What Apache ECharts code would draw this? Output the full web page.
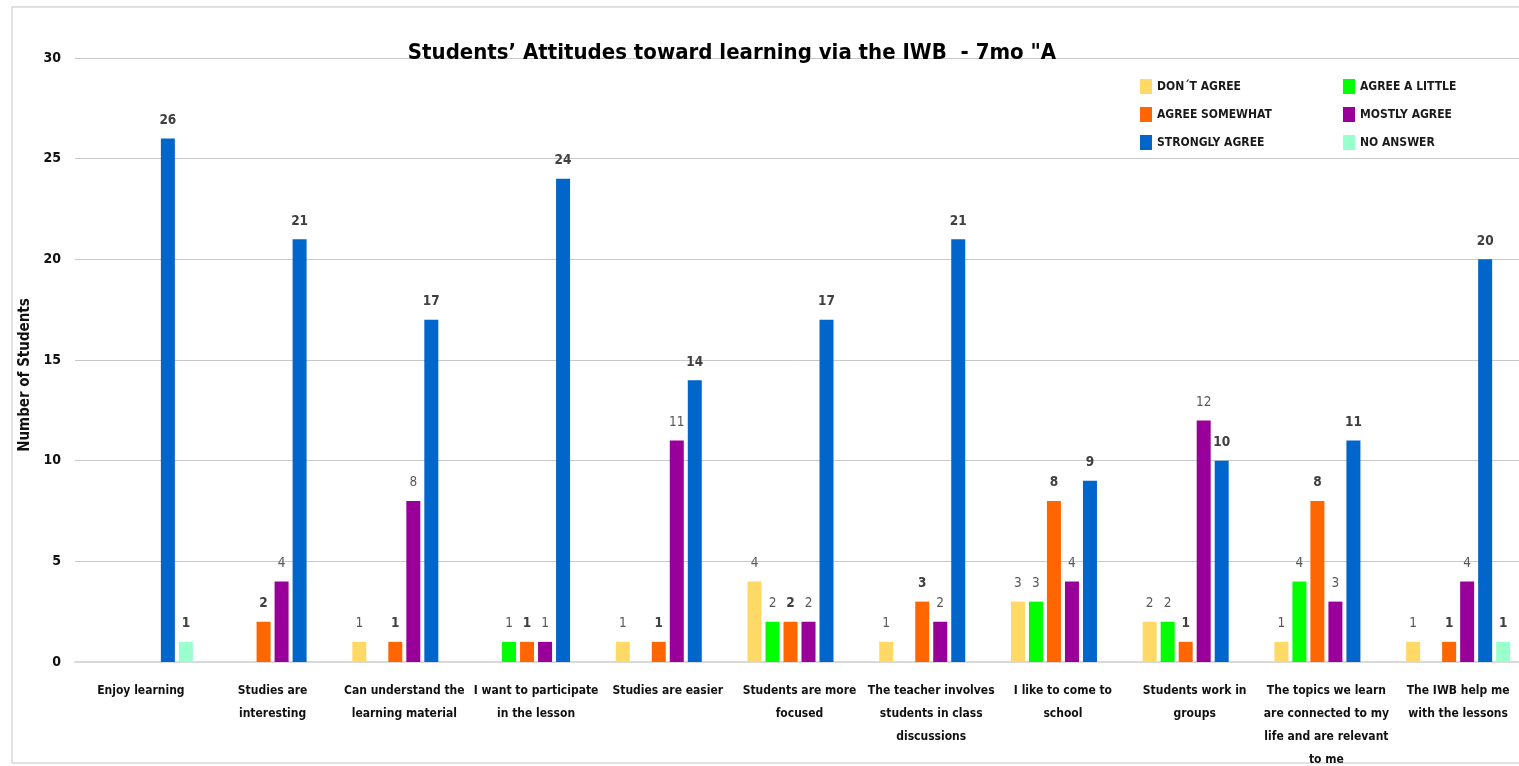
<!DOCTYPE html>
<html>
<head>
<meta charset="utf-8">
<title>Students’ Attitudes toward learning via the IWB</title>
<script src="https://cdn.jsdelivr.net/npm/echarts@6/dist/echarts.min.js"></script>
<style>
  html, body { margin: 0; padding: 0; background: #ffffff; }
  #chart { width: 1519px; height: 766px; }
</style>
</head>
<body>
<div id="chart"></div>
<script>
// Survey statements (x-axis categories)
const categories = [
  'Enjoy learning',
  'Studies are\ninteresting',
  'Can understand the\nlearning material',
  'I want to participate\nin the lesson',
  'Studies are easier',
  'Students are more\nfocused',
  'The teacher involves\nstudents in class\ndiscussions',
  'I like to come to\nschool',
  'Students work in\ngroups',
  'The topics we learn\nare connected to my\nlife and are relevant\nto me',
  'The IWB help me\nwith the lessons'
];

// Number of students per answer, one value per statement
const dontAgree       = [0, 0, 1, 0, 1, 4, 1, 3, 2, 1, 1];
const agreeALittle    = [0, 0, 0, 1, 0, 2, 0, 3, 2, 4, 0];
const agreeSomewhat   = [0, 2, 1, 1, 1, 2, 3, 8, 1, 8, 1];
const mostlyAgree     = [0, 4, 8, 1, 11, 2, 2, 4, 12, 3, 4];
const stronglyAgree   = [26, 21, 17, 24, 14, 17, 21, 9, 10, 11, 20];
const noAnswer        = [1, 0, 0, 0, 0, 0, 0, 0, 0, 0, 1];

const yTicks = [0, 5, 10, 15, 20, 25, 30];

const FONT = '"DejaVu Sans Condensed", "Liberation Sans Narrow", sans-serif';

function makeSeries(name, data, color, bold) {
  return {
    name: name,
    type: 'bar',
    data: data,
    barWidth: 14,
    barGap: '28.6%',
    itemStyle: { color: color },
    label: {
      show: true,
      position: 'top',
      distance: 11,
      fontFamily: FONT,
      fontSize: 13.5,
      fontWeight: bold ? 'bold' : 'normal',
      color: bold ? '#404040' : '#595959',
      formatter: p => (p.value ? String(p.value) : '')
    }
  };
}

const chart = echarts.init(document.getElementById('chart'));

const legendText = { fontFamily: FONT, fontSize: 12, fontWeight: 'bold', color: '#1a1a1a' };

chart.setOption({
  animation: false,
  backgroundColor: '#ffffff',
  title: {
    text: 'Students’ Attitudes toward learning via the IWB  - 7mo "A',
    left: 732,
    top: 42,
    padding: 0,
    textAlign: 'center',
    textStyle: { fontFamily: FONT, fontSize: 22, fontWeight: 'bold', color: '#000000' }
  },
  graphic: [{
    type: 'rect',
    shape: { x: 12, y: 7, width: 1530, height: 756 },
    style: { fill: 'none', stroke: '#d9d9d9', lineWidth: 1.5 },
    silent: true,
    z: -10
  }],
  legend: [
    {
      orient: 'vertical',
      left: 1140, top: 79,
      padding: 0,
      itemWidth: 12, itemHeight: 15, itemGap: 13,
      selectedMode: false,
      icon: 'rect',
      textStyle: legendText,
      data: ['DON´T AGREE', 'AGREE SOMEWHAT', 'STRONGLY AGREE']
    },
    {
      orient: 'vertical',
      left: 1343, top: 79,
      padding: 0,
      itemWidth: 12, itemHeight: 15, itemGap: 13,
      selectedMode: false,
      icon: 'rect',
      textStyle: legendText,
      data: ['AGREE A LITTLE', 'MOSTLY AGREE', 'NO ANSWER']
    }
  ],
  grid: { left: 75, right: -5, top: 58, bottom: 104, containLabel: false, outerBoundsMode: 'none' },
  xAxis: {
    type: 'category',
    data: categories,
    axisTick: { show: false },
    axisLine: { lineStyle: { color: '#d9d9d9', width: 2 } },
    axisLabel: {
      interval: 0,
      margin: 17,
      fontFamily: FONT,
      fontSize: 12,
      fontWeight: 'bold',
      color: '#111111',
      lineHeight: 23
    }
  },
  yAxis: {
    type: 'value',
    min: yTicks[0],
    max: yTicks[yTicks.length - 1],
    interval: yTicks[1] - yTicks[0],
    name: 'Number of Students',
    nameLocation: 'middle',
    nameGap: 40,
    nameTextStyle: { fontFamily: FONT, fontSize: 15, fontWeight: 'bold', color: '#111111', padding: [0, 30, 0, 0] },
    axisLine: { show: false },
    axisTick: { show: false },
    axisLabel: { fontFamily: FONT, fontSize: 14, fontWeight: 'bold', color: '#111111', margin: 14 },
    splitLine: { lineStyle: { color: '#c8c8c8', width: 1 } }
  },
  series: [
    makeSeries('DON´T AGREE', dontAgree, '#FFD966', false),
    makeSeries('AGREE A LITTLE', agreeALittle, '#00FF00', false),
    makeSeries('AGREE SOMEWHAT', agreeSomewhat, '#FF6600', true),
    makeSeries('MOSTLY AGREE', mostlyAgree, '#990099', false),
    makeSeries('STRONGLY AGREE', stronglyAgree, '#0066CC', true),
    makeSeries('NO ANSWER', noAnswer, '#99FFCC', true)
  ]
});
</script>
</body>
</html>
